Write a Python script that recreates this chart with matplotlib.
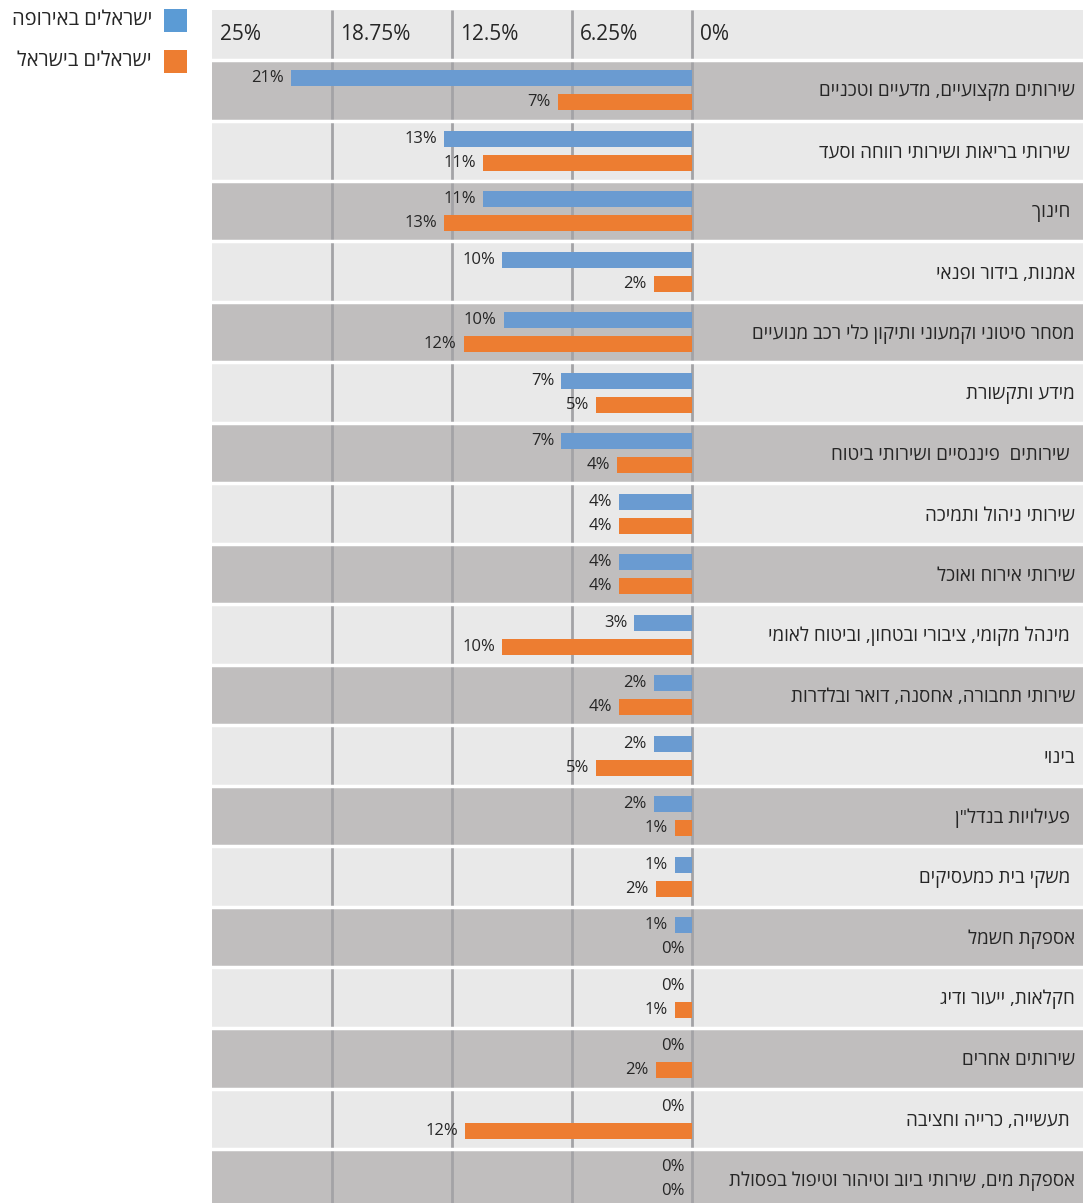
import numpy as np
import matplotlib.pyplot as plt
from matplotlib.patches import Rectangle

# data (in percent)
categories = [
    "שירותים מקצועיים, מדעיים וטכניים",
    " שירותי בריאות ושירותי רווחה וסעד",
    " חינוך",
    "אמנות, בידור ופנאי",
    "מסחר סיטוני וקמעוני ותיקון כלי רכב מנועיים",
    "מידע ותקשורת",
    " שירותים  פיננסיים ושירותי ביטוח",
    "שירותי ניהול ותמיכה",
    "שירותי אירוח ואוכל",
    " מינהל מקומי, ציבורי ובטחון, וביטוח לאומי",
    "שירותי תחבורה, אחסנה, דואר ובלדרות",
    "בינוי",
    " פעילויות בנדל\"ן",
    " משקי בית כמעסיקים",
    "אספקת חשמל",
    "חקלאות, ייעור ודיג",
    "שירותים אחרים",
    " תעשייה, כרייה וחציבה",
    "אספקת מים, שירותי ביוב וטיהור וטיפול בפסולת",
]
europe = [20.9, 12.9, 10.9, 9.9, 9.8, 6.8, 6.8, 3.8, 3.8, 3.0,
          2.0, 2.0, 2.0, 0.9, 0.9, 0.0, 0.0, 0.0, 0.0]
israel = [7.0, 10.9, 12.9, 2.0, 11.9, 5.0, 3.9, 3.8, 3.8, 9.9,
          3.8, 5.0, 0.9, 1.9, 0.0, 0.9, 1.9, 11.8, 0.0]
series_names = ["ישראלים באירופה", "ישראלים בישראל"]
ticks = [25, 18.75, 12.5, 6.25, 0]
tick_labels = ["25%", "18.75%", "12.5%", "6.25%", "0%"]

BLUE = "#6a9bd1"
LEG_BLUE = "#5b9bd5"
ORANGE = "#ed7d31"
DARK = "#c0bebe"
LIGHT = "#e9e9e9"
GRID = "#a3a3a6"
FONT = ["Open Sans", "DejaVu Sans"]

plt.rcParams["font.family"] = FONT
plt.rcParams["text.color"] = "#262626"


def rtl(s):
    # matplotlib has no bidi support, so flip Hebrew text by hand
    return s[::-1]


W, H = 1089, 1203
fig = plt.figure(figsize=(W / 100, H / 100), dpi=100)

# plot area + label column: x from 212 to 1083 px, y from 10 px to bottom
ax = fig.add_axes([212 / W, 0, 871 / W, (H - 10) / H])
px_per_pct = 19.2
row_px = 60.5
header_px = 50
n = len(categories)
ax.set_xlim(25, -(1083 - 692) / px_per_pct)
y_top = -0.5 - header_px / row_px
y_bot = -0.5 + (H - 60) / row_px
ax.set_ylim(y_bot, y_top)
ax.axis("off")

# bands
ax.axhspan(y_top, -0.5, color=LIGHT, lw=0, zorder=0)
for i in range(n):
    ax.axhspan(i - 0.5, i + 0.5, color=DARK if i % 2 == 0 else LIGHT,
               lw=0, zorder=0)

# grid lines
ax.vlines(ticks[1:], y_top, y_bot, color=GRID, lw=2, zorder=1)
for b in np.arange(-0.5, n, 1.0):
    ax.axhline(b, color="white", lw=2.5, zorder=2)

# bars
y = np.arange(n)
ax.barh(y - 0.2, europe, height=0.265, color=BLUE, zorder=3)
ax.barh(y + 0.2, israel, height=0.265, color=ORANGE, zorder=3)

for yy, ve, vi in zip(y, europe, israel):
    ax.annotate(f"{ve:.0f}%", xy=(ve, yy - 0.2), xytext=(-5, 0),
                textcoords="offset points", ha="right", va="center",
                fontsize=12)
    ax.annotate(f"{vi:.0f}%", xy=(vi, yy + 0.2), xytext=(-5, 0),
                textcoords="offset points", ha="right", va="center",
                fontsize=12)

# category labels in the right column
for yy, c in zip(y, categories):
    ax.text(0.9908, yy + 0.03, rtl(c), transform=ax.get_yaxis_transform(),
            ha="right", va="center", fontsize=13.5)

# header tick labels
for t, lbl in zip(ticks, tick_labels):
    ax.annotate(lbl, xy=(t, (y_top - 0.5) / 2), xytext=(6, 0),
                textcoords="offset points", ha="left", va="center",
                fontsize=15)

# legend
for k, (name, col) in enumerate(zip(series_names, [LEG_BLUE, ORANGE])):
    top = 9 + k * 41
    fig.add_artist(Rectangle((164 / W, 1 - (top + 23) / H), 23 / W, 23 / H,
                             transform=fig.transFigure, color=col, lw=0))
    fig.text(152 / W, 1 - (top + 11) / H, rtl(name), ha="right",
             va="center", fontsize=14.5)

fig.savefig("out.png", dpi=100)
